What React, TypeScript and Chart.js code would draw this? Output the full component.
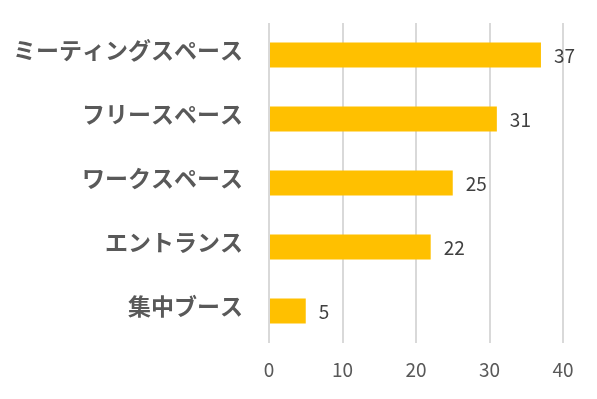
import React, { useEffect, useRef } from "react";
import { Chart, registerables } from "chart.js";

Chart.register(...registerables);

const categories = ["ミーティングスペース", "フリースペース", "ワークスペース", "エントランス", "集中ブース"];
const values = [37, 31, 25, 22, 5];
const xTicks = [0, 10, 20, 30, 40];

const JP = '"Noto Sans CJK JP", "Noto Sans", sans-serif';

const valueLabels = {
  id: "valueLabels",
  afterDatasetsDraw(chart: any) {
    const ctx = chart.ctx;
    const meta = chart.getDatasetMeta(0);
    ctx.save();
    ctx.font = `19px ${JP}`;
    ctx.fillStyle = "#404040";
    ctx.textAlign = "left";
    ctx.textBaseline = "middle";
    meta.data.forEach((bar: any, i: number) => {
      ctx.fillText(String(values[i]), bar.x + 13, bar.y + 1);
    });
    ctx.restore();
  },
};

export default function App() {
  const ref = useRef<HTMLCanvasElement>(null);
  useEffect(() => {
    document.body.style.margin = "0";
    const chart = new Chart(ref.current!, {
      type: "bar",
      data: {
        labels: categories,
        datasets: [
          {
            data: values,
            backgroundColor: "#FFC000",
            borderWidth: 0,
            categoryPercentage: 1,
            barPercentage: 0.39,
          },
        ],
      },
      options: {
        indexAxis: "y",
        animation: false,
        responsive: false,
        layout: { padding: { top: 23, right: 34, left: 0, bottom: 0 } },
        plugins: { legend: { display: false }, tooltip: { enabled: false } },
        scales: {
          x: {
            min: 0,
            max: 40,
            afterBuildTicks: (s: any) => {
              s.ticks = xTicks.map((v) => ({ value: v }));
            },
            afterFit: (s: any) => {
              s.height = 56;
              s.paddingLeft = 0;
              s.paddingRight = 0;
            },
            grid: { color: "#d9d9d9", lineWidth: 2, drawTicks: false },
            border: { display: false },
            ticks: {
              padding: 15,
              color: "#595959",
              font: { family: JP, size: 19 },
            },
          },
          y: {
            afterFit: (s: any) => {
              s.width = 269;
              s.paddingTop = 0;
              s.paddingBottom = 0;
            },
            grid: { display: false, drawTicks: false },
            border: { display: false },
            ticks: {
              padding: 26,
              labelOffset: -5,
              color: "#595959",
              font: { family: JP, size: 23, weight: "bold" },
            },
          },
        },
      },
      plugins: [valueLabels],
    });
    return () => chart.destroy();
  }, []);
  return <canvas ref={ref} width={597} height={399} />;
}
